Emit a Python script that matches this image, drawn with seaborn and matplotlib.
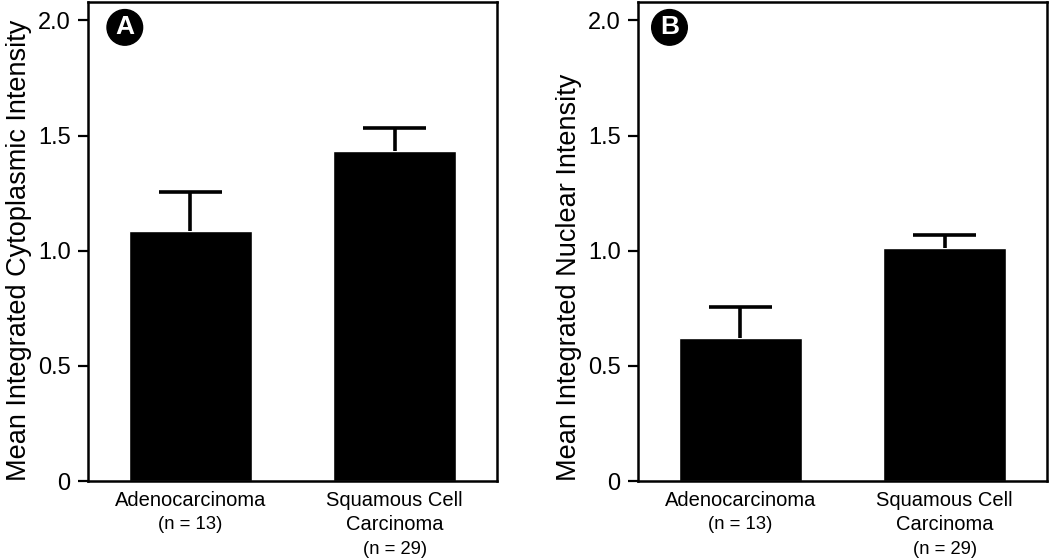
import numpy as np
import pandas as pd
import matplotlib
matplotlib.use("Agg")
import matplotlib.pyplot as plt
import seaborn as sns

groups = ["Adenocarcinoma", "Squamous Cell Carcinoma"]
group_lines = [["Adenocarcinoma"], ["Squamous Cell", "Carcinoma"]]
n_labels = ["(n = 13)", "(n = 29)"]
cyto_mean = [1.085, 1.435]
cyto_err = [0.17, 0.10]
nuc_mean = [0.62, 1.01]
nuc_err = [0.135, 0.06]
y_ticks = [0, 0.5, 1.0, 1.5, 2.0]
y_ticklabels = ["0", "0.5", "1.0", "1.5", "2.0"]

sns.set_style("white")
plt.rcParams["font.family"] = ["Liberation Sans", "DejaVu Sans"]
plt.rcParams["text.color"] = "black"

fig = plt.figure(figsize=(10.5, 5.58), dpi=100)
ax_a = fig.add_axes([88 / 1050, 77 / 558, 409 / 1050, 479 / 558])
ax_b = fig.add_axes([638 / 1050, 77 / 558, 409 / 1050, 479 / 558])

panels = [
    (ax_a, cyto_mean, cyto_err, "Mean Integrated Cytoplasmic Intensity", "A", 0.09),
    (ax_b, nuc_mean, nuc_err, "Mean Integrated Nuclear Intensity", "B", 0.077),
]

for ax, means, errs, ylabel, letter, lx in panels:
    df = pd.DataFrame({"group": groups, "value": means})
    sns.barplot(data=df, x="group", y="value", color="black", width=0.6,
                errorbar=None, saturation=1, ax=ax)
    xs = np.arange(len(groups))
    tops = np.array(means) + np.array(errs)
    # upper-only error bars
    ax.vlines(xs, means, tops, color="black", lw=2.6)
    ax.hlines(tops, xs - 0.155, xs + 0.155, color="black", lw=2.6)
    ax.set_xlim(-0.5, 1.5)
    ax.set_ylim(0, 2.08)
    ax.set_yticks(y_ticks)
    ax.set_yticklabels(y_ticklabels, fontsize=17, color="black")
    ax.set_xticks([])
    ax.set_xlabel("")
    ax.set_ylabel(ylabel, fontsize=19.5, labelpad=4, color="black", loc="bottom")
    ax.tick_params(axis="y", direction="out", length=7.5, width=1.6, pad=5,
                   left=True, color="black")
    for sp in ax.spines.values():
        sp.set_visible(True)
        sp.set_color("black")
        sp.set_linewidth(1.8)

    # category labels under the axis
    trans = matplotlib.transforms.blended_transform_factory(ax.transData, fig.transFigure)
    for i, lines in enumerate(group_lines):
        y = 1 - 500 / 558
        for ln in lines:
            ax.text(i, y, ln, transform=trans, ha="center", va="center", fontsize=14.5)
            y -= 24.5 / 558
        ax.text(i, y, n_labels[i], transform=trans, ha="center", va="center", fontsize=13.3)

    # panel letter in black circle
    ax.text(lx, 0.947, letter, transform=ax.transAxes, ha="center", va="center",
            fontsize=19, fontweight="bold", color="white",
            bbox=dict(boxstyle="circle,pad=0.22", facecolor="black", edgecolor="black"))

fig.savefig("out.png", dpi=100)
